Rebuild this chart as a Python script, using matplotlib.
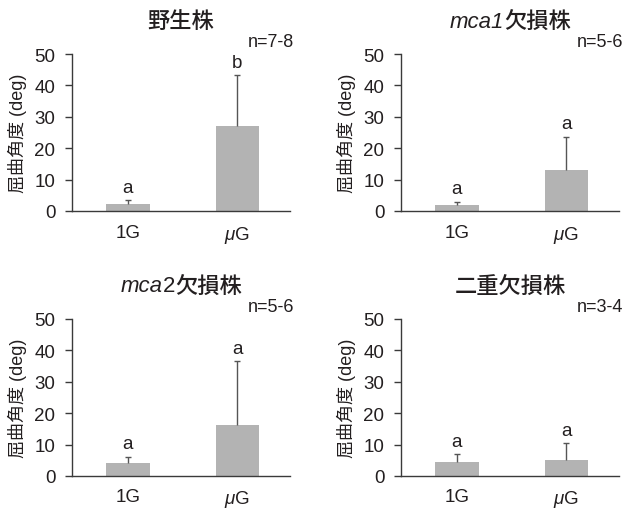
import matplotlib
matplotlib.use("Agg")
import matplotlib.pyplot as plt
from matplotlib.font_manager import FontProperties

plt.rcParams['font.family'] = ['Liberation Sans', 'Noto Sans CJK JP']
plt.rcParams['mathtext.fontset'] = 'custom'
plt.rcParams['mathtext.rm'] = 'Liberation Sans'
plt.rcParams['mathtext.it'] = 'Liberation Sans:italic'

TEXT = '#231f20'
AXIS = '#3a3a3a'
BAR = '#b3b3b3'
ERR = '#555555'

conditions = ['1G', r'$\mu\mathrm{G}$']

# mean bending angle and upper SD per strain
wt_mean = [2.2, 27.1]
wt_err = [1.4, 16.3]
mca1_mean = [1.9, 13.1]
mca1_err = [1.1, 10.6]
mca2_mean = [4.0, 16.2]
mca2_err = [2.2, 20.3]
double_mean = [4.4, 5.0]
double_err = [2.7, 5.6]

wt_letters = ['a', 'b']
mca1_letters = ['a', 'a']
mca2_letters = ['a', 'a']
double_letters = ['a', 'a']

n_labels = ['n=7-8', 'n=5-6', 'n=5-6', 'n=3-4']

italic = FontProperties(family='Liberation Sans', style='italic', size=16)
roman = FontProperties(family='Liberation Sans', size=16)
cjk = FontProperties(family='Noto Sans CJK JP', size=16, weight='medium')

titles = [
    [('野生株', cjk)],
    [('mca1', italic), ('欠損株', cjk)],
    [('mca', italic), ('2', roman), ('欠損株', cjk)],
    [('二重欠損株', cjk)],
]

fig = plt.figure(figsize=(6.24, 5.10), dpi=100)
W, H = 624, 510
boxes = [
    [72 / W, 1 - 212 / H, 218 / W, 157 / H],
    [401 / W, 1 - 212 / H, 218 / W, 157 / H],
    [72 / W, 1 - 477 / H, 218 / W, 157 / H],
    [401 / W, 1 - 477 / H, 218 / W, 157 / H],
]
means = [wt_mean, mca1_mean, mca2_mean, double_mean]
errs = [wt_err, mca1_err, mca2_err, double_err]
letters = [wt_letters, mca1_letters, mca2_letters, double_letters]

renderer = fig.canvas.get_renderer()


def draw_title(ax, pieces, y_px):
    # place mixed-font pieces side by side, centred over the axes
    texts = [fig.text(0, 0, s, fontproperties=fp, color=TEXT, ha='left', va='center')
             for s, fp in pieces]
    widths = [t.get_window_extent(renderer).width for t in texts]
    bb = ax.get_position()
    cx = (bb.x0 + bb.x1) / 2 * W
    x = cx - sum(widths) / 2
    for t, w in zip(texts, widths):
        t.set_position((x / W, 1 - y_px / H))
        x += w


x = [0, 1]
for i, ax in enumerate([fig.add_axes(b) for b in boxes]):
    ax.bar(x, means[i], width=0.4, color=BAR, zorder=2)
    _, caps, _ = ax.errorbar(x, means[i], yerr=[[0, 0], errs[i]], fmt='none',
                             ecolor=ERR, elinewidth=1, capsize=2.5, capthick=1,
                             zorder=3)
    caps[0].set_visible(False)  # upper whisker only
    for xi, m, e, lab in zip(x, means[i], errs[i], letters[i]):
        ax.annotate(lab, (xi, m + e), xytext=(0, 3), textcoords='offset points',
                    ha='center', va='bottom', fontsize=13.5, color=TEXT)
    ax.set_xlim(-0.51, 1.48)
    ax.set_ylim(0, 50)
    ax.set_yticks([0, 10, 20, 30, 40, 50])
    ax.set_xticks(x)
    ax.set_xticklabels(conditions)
    ax.spines['top'].set_visible(False)
    ax.spines['right'].set_visible(False)
    for s in ['left', 'bottom']:
        ax.spines[s].set_color(AXIS)
        ax.spines[s].set_linewidth(1)
    ax.tick_params(axis='y', length=5, width=1, color=AXIS, pad=7,
                   labelsize=13.5, labelcolor=TEXT)
    ax.tick_params(axis='x', length=0, pad=9, labelsize=13.5, labelcolor=TEXT)
    ax.set_ylabel('屈曲角度 (deg)', fontsize=13, color=TEXT, labelpad=5)
    ax.text(1.02, 1.08, n_labels[i], transform=ax.transAxes, ha='right',
            va='center', fontsize=13, color=TEXT)
    title_y = 22 if i < 2 else 287
    draw_title(ax, titles[i], title_y)

fig.savefig('out.png', dpi=100)
